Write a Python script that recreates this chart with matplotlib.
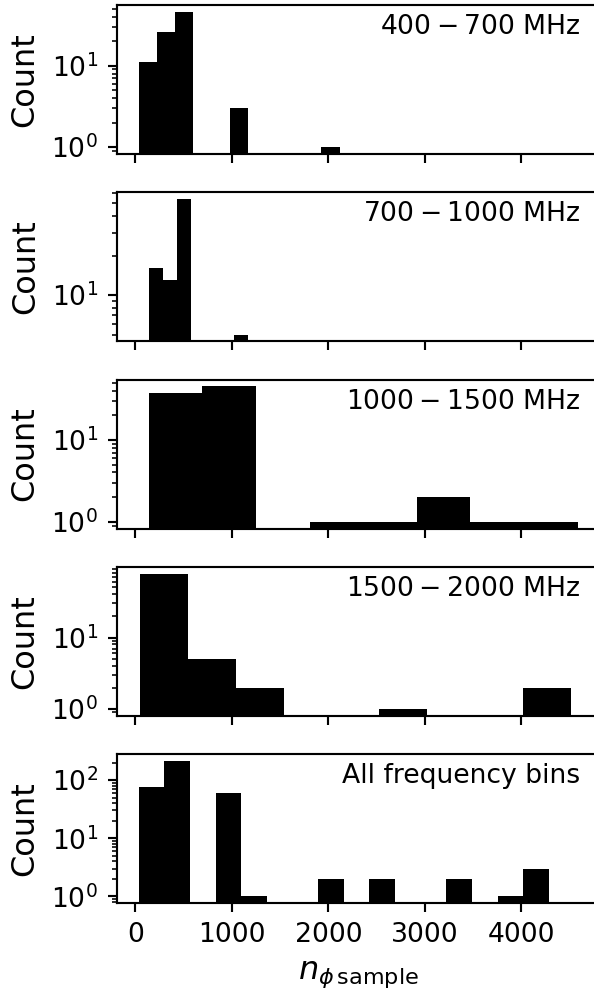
import matplotlib.pyplot as plt

# bin edges and counts, one list pair per panel
edges_400_700 = [34, 223, 413, 602, 791, 980, 1170, 1359, 1548, 1738, 1927, 2117]
counts_400_700 = [11, 26, 46, 0, 0, 3, 0, 0, 0, 0, 1]

edges_700_1000 = [138, 286, 433, 581, 728, 876, 1024, 1171]
counts_700_1000 = [16, 13, 54, 0, 0, 0, 5]

edges_1000_1500 = [138, 694, 1249, 1805, 2360, 2916, 3471, 4027, 4583]
counts_1000_1500 = [37, 45, 0, 1, 1, 2, 1, 1]

edges_1500_2000 = [52, 547, 1043, 1538, 2034, 2529, 3025, 3520, 4016, 4511]
counts_1500_2000 = [78, 5, 2, 0, 0, 1, 0, 0, 2]

edges_all = [34, 300, 565, 831, 1096, 1362, 1628, 1893, 2159, 2425, 2690,
             2956, 3221, 3487, 3753, 4018, 4284]
counts_all = [75, 213, 0, 60, 1, 0, 0, 2, 0, 2, 0, 0, 2, 0, 1, 3]

labels = [r"$400-700$ MHz", r"$700-1000$ MHz", r"$1000-1500$ MHz",
          r"$1500-2000$ MHz", "All frequency bins"]
panels = [(edges_400_700, counts_400_700),
          (edges_700_1000, counts_700_1000),
          (edges_1000_1500, counts_1000_1500),
          (edges_1500_2000, counts_1500_2000),
          (edges_all, counts_all)]

W, H = 594, 994
fig = plt.figure(figsize=(W / 192, H / 192), dpi=192)

left_px, width_px, height_px = 116.7, 483.0, 149.0
axes = []
for i, ((edges, counts), lab) in enumerate(zip(panels, labels)):
    top_px = 5 + i * 187.3
    rect = [left_px / W, 1 - (top_px + height_px) / H, width_px / W, height_px / H]
    ax = fig.add_axes(rect, sharex=axes[0] if axes else None)
    ax.hist(edges[:-1], bins=edges, weights=counts, color='k', log=True)
    ax.set_ylabel("Count", fontsize=12)
    ax.text(0.96, 0.94, lab, transform=ax.transAxes, ha='right', va='top',
            fontsize=10)
    if i < 4:
        ax.tick_params(labelbottom=False)
    axes.append(ax)

axes[-1].set_xticks([0, 1000, 2000, 3000, 4000])
axes[-1].set_xlabel(r"$n_{\phi\,\mathrm{sample}}$", fontsize=12)

fig.savefig("out.png", dpi=192)
